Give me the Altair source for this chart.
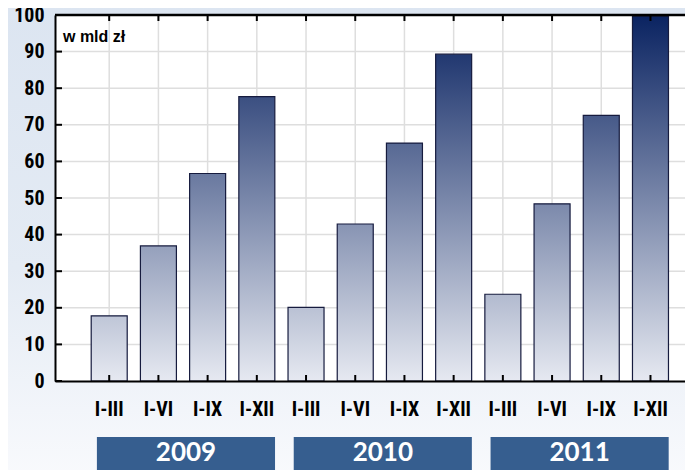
import altair as alt
import pandas as pd

# ---- data ----
categories = ["I-III", "I-VI", "I-IX", "I-XII"] * 3
years = ["2009", "2010", "2011"]
values = [17.8, 36.9, 56.7, 77.7, 20.1, 42.9, 65.0, 89.3, 23.7, 48.4, 72.6, 99.7]
y_ticks = [0, 10, 20, 30, 40, 50, 60, 70, 80, 90, 100]
unit_label = "w mld zł"

positions = list(range(1, len(values) + 1))
df = pd.DataFrame({
    "pos": positions,
    "label": categories,
    "value": values,
    "year": [y for y in years for _ in range(4)],
})
year_df = pd.DataFrame({
    "year": years,
    "start": [positions[4 * i] - 0.25 for i in range(len(years))],
    "end": [positions[4 * i + 3] + 0.37 for i in range(len(years))],
})
year_df["mid"] = (year_df["start"] + year_df["end"]) / 2
grid_df = pd.DataFrame({"v": y_ticks})
inner_grid_df = pd.DataFrame({"v": y_ticks[1:-1]})
one = pd.DataFrame({"a": [0]})

W, H = 630, 366
XMAX = W / 50.0
NARROW = "Liberation Sans Narrow, Roboto Condensed, DejaVu Sans Condensed, sans-serif"

xscale = alt.Scale(domain=[0, XMAX], nice=False, zero=False)
yscale = alt.Scale(domain=[0, 100], nice=False)
xaxis = alt.Axis(labels=False, ticks=False, grid=False, domain=True,
                 domainColor="black", domainWidth=2, title=None, zindex=1)
yaxis = alt.Axis(values=y_ticks, ticks=False, grid=False, domain=True,
                 domainColor="black", domainWidth=2, title=None, zindex=1,
                 labelFont=NARROW, labelFontSize=20, labelFontWeight="bold",
                 labelColor="black", labelPadding=11)


def X(field):
    return alt.X(field, type="quantitative", scale=xscale, axis=xaxis, title=None)


def Y(field):
    return alt.Y(field, type="quantitative", scale=yscale, axis=yaxis, title=None)


bg_grad = alt.Gradient(gradient="linear", x1=0, y1=0, x2=0, y2=1, stops=[
    alt.GradientStop(offset=0, color="#dce5f1"),
    alt.GradientStop(offset=0.55, color="#e4ebf4"),
    alt.GradientStop(offset=1, color="#f9fafd"),
])
background = alt.Chart(one).mark_rect(fill=bg_grad).encode(
    x=alt.value(-47), x2=alt.value(W), y=alt.value(-7), y2=alt.value(H + 100))
plot_bg = alt.Chart(one).mark_rect(fill="white").encode(
    x=alt.value(0), x2=alt.value(W), y=alt.value(0), y2=alt.value(H))

vgrid = alt.Chart(df).mark_rule(color="#dedede", strokeWidth=1.5).encode(
    x=X("pos"), y=alt.value(0), y2=alt.value(H))
hgrid = alt.Chart(inner_grid_df).mark_rule(color="#dedede", strokeWidth=1.5).encode(
    y=Y("v"), x=alt.value(0), x2=alt.value(W))

bar_layers = []
for i, v in enumerate(values):
    grad = alt.Gradient(gradient="linear", x1=0, y1=1 - 100.0 / v, x2=0, y2=1, stops=[
        alt.GradientStop(offset=0, color="#0a2361"),
        alt.GradientStop(offset=1, color="#e6e9f1"),
    ])
    bar_layers.append(
        alt.Chart(df.iloc[[i]]).mark_bar(size=36, fill=grad, stroke="#161b3e",
                                         strokeWidth=1.2).encode(
            x=X("pos"), y=Y("value"))
    )

bottom_ticks = alt.Chart(df).mark_rule(color="black", strokeWidth=2).encode(
    x=X("pos"), y=alt.value(H), y2=alt.value(H - 6))
top_ticks = alt.Chart(df).mark_rule(color="black", strokeWidth=2).encode(
    x=X("pos"), y=alt.value(0), y2=alt.value(6))
left_ticks = alt.Chart(grid_df).mark_rule(color="black", strokeWidth=2).encode(
    y=Y("v"), x=alt.value(0), x2=alt.value(7))
top_line = alt.Chart(one).mark_rule(color="black", strokeWidth=2.5).encode(
    x=alt.value(0), x2=alt.value(W), y=alt.value(0))

x_labels = alt.Chart(df).mark_text(font=NARROW, fontSize=20, fontWeight="bold",
                                    color="black", baseline="middle").encode(
    x=X("pos"), y=alt.value(395), text="label:N")

year_boxes = alt.Chart(year_df).mark_rect(fill="#365e8f").encode(
    x=X("start"), x2="end", y=alt.value(422), y2=alt.value(H + 100))
year_text = alt.Chart(year_df).mark_text(font="Lato, Carlito, Open Sans, sans-serif",
                                         fontSize=26, fontWeight="bold", color="white",
                                         baseline="middle").encode(
    x=X("mid"), y=alt.value(438), text="year:N")

unit_text = alt.Chart(one).mark_text(text=unit_label, font="Liberation Sans, Arial, sans-serif",
                                     fontSize=16, fontWeight="bold", color="black",
                                     align="left", baseline="middle").encode(
    x=alt.value(8), y=alt.value(22))

chart = alt.layer(
    background, plot_bg, vgrid, hgrid, *bar_layers,
    bottom_ticks, top_ticks, left_ticks, top_line,
    x_labels, year_boxes, year_text, unit_text,
).properties(
    width=W, height=H,
    padding={"left": 47, "top": 7, "right": 0, "bottom": 89},
    autosize=alt.AutoSizeParams(type="none"),
).configure_view(stroke=None, fill="white").configure(background="#e6ecf5")

chart.save("out.html", embed_options={"renderer": "svg", "actions": False})
